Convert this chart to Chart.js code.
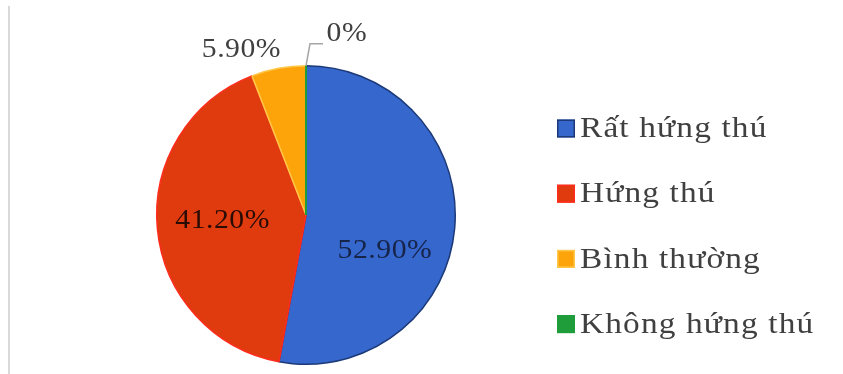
<!DOCTYPE html>
<html>
<head>
<meta charset="utf-8">
<script src="https://cdn.jsdelivr.net/npm/chart.js@4"></script>
<style>
  html, body { margin: 0; padding: 0; background: #fff; }
  #wrap { position: relative; width: 843px; height: 374px; }
</style>
</head>
<body>
<div id="wrap"><canvas id="interest-pie"></canvas></div>
<script>
// du lieu doc tu hinh
const categories = ['Rất hứng thú', 'Hứng thú', 'Bình thường', 'Không hứng thú'];
const percentValues = [52.9, 41.2, 5.9, 0];
const valueLabels = ['52.90%', '41.20%', '5.90%', '0%'];

const fillColors = ['#3667cd', '#e03b0f', '#fea40b', '#1f9d3b'];
const edgeColors = ['#1d3a78', '#ff2b1c', '#ffc84a', '#1f9d3b'];

// vi tri nhan: lech goc (do) so voi giua lat, khoang cach theo ban kinh
const labelPlacement = [
    { turn: 19, dist: 0.58, color: '#16244a' },
    { turn: 1.3, dist: 0.56, color: '#2a0c04' },
    { turn: -10.7, dist: 1.19, color: '#404040' },
    { turn: 12.7, dist: 1.245, color: '#404040' }
];

const sideLine = {
    id: 'sideLine',
    beforeDraw(chart) {
        const ctx = chart.ctx;
        ctx.save();
        ctx.strokeStyle = '#d9d9d9';
        ctx.lineWidth = 2;
        ctx.beginPath();
        ctx.moveTo(9, 6);
        ctx.lineTo(9, 374);
        ctx.stroke();
        ctx.restore();
    }
};

const sliceLabels = {
    id: 'sliceLabels',
    afterDatasetsDraw(chart) {
        const ctx = chart.ctx;
        const arcs = chart.getDatasetMeta(0).data;
        ctx.save();
        arcs.forEach(function (arc, i) {
            const p = arc.getProps(['x', 'y', 'startAngle', 'endAngle', 'outerRadius'], true);
            const place = labelPlacement[i];
            const a = (p.startAngle + p.endAngle) / 2 + place.turn * Math.PI / 180;
            const r = p.outerRadius * place.dist;
            const tx = p.x + Math.cos(a) * r;
            const ty = p.y + Math.sin(a) * r;

            if (percentValues[i] === 0) {
                // lat 0%: chi con mot vach, cong them duong dan nhan
                const ex = p.x + Math.cos(p.startAngle) * p.outerRadius;
                const ey = p.y + Math.sin(p.startAngle) * p.outerRadius;
                ctx.strokeStyle = fillColors[i];
                ctx.lineWidth = 2;
                ctx.beginPath();
                ctx.moveTo(p.x, p.y);
                ctx.lineTo(ex, ey);
                ctx.stroke();

                ctx.strokeStyle = '#a6a6a6';
                ctx.lineWidth = 1.5;
                ctx.beginPath();
                ctx.moveTo(ex, ey);
                ctx.lineTo(ex + 4, ey - 22);
                ctx.lineTo(ex + 17, ey - 22);
                ctx.stroke();
            }

            ctx.save();
            ctx.translate(tx, ty);
            ctx.scale(1.06, 1);
            ctx.font = '28px "Liberation Serif", "Times New Roman", serif';
            ctx.letterSpacing = '0.5px';
            ctx.fillStyle = place.color;
            ctx.textAlign = 'center';
            ctx.textBaseline = 'middle';
            ctx.fillText(valueLabels[i], 0, 0);
            ctx.restore();
        });
        ctx.restore();
    }
};

const sideLegend = {
    id: 'sideLegend',
    afterDraw(chart) {
        const ctx = chart.ctx;
        ctx.save();
        categories.forEach(function (name, i) {
            const cy = 128.5 + i * 65.2;
            ctx.fillStyle = fillColors[i];
            ctx.fillRect(557, cy - 9, 18, 18);
            ctx.strokeStyle = edgeColors[i];
            ctx.lineWidth = 1.5;
            ctx.strokeRect(557.75, cy - 8.25, 16.5, 16.5);

            ctx.save();
            ctx.translate(580, cy + 1);
            ctx.scale(1.15, 1);
            ctx.font = '29px "Liberation Serif", "Times New Roman", serif';
            ctx.letterSpacing = '1px';
            ctx.fillStyle = '#404040';
            ctx.textAlign = 'left';
            ctx.textBaseline = 'middle';
            ctx.fillText(name, 0, 0);
            ctx.restore();
        });
        ctx.restore();
    }
};

document.addEventListener('DOMContentLoaded', function () {
    const canvas = document.getElementById('interest-pie');
    const ctx = canvas.getContext('2d');
    new Chart(ctx, {
        type: 'pie',
        data: {
            labels: categories,
            datasets: [{
                data: percentValues,
                backgroundColor: fillColors,
                borderColor: edgeColors,
                borderWidth: 1.5,
                hoverOffset: 0
            }]
        },
        options: {
            responsive: true,
            maintainAspectRatio: false,
            animation: false,
            layout: { padding: { left: 56, right: 287, top: 65, bottom: 9 } },
            plugins: {
                legend: { display: false },
                tooltip: { enabled: false }
            }
        },
        plugins: [sideLine, sliceLabels, sideLegend]
    });
});
</script>
</body>
</html>
